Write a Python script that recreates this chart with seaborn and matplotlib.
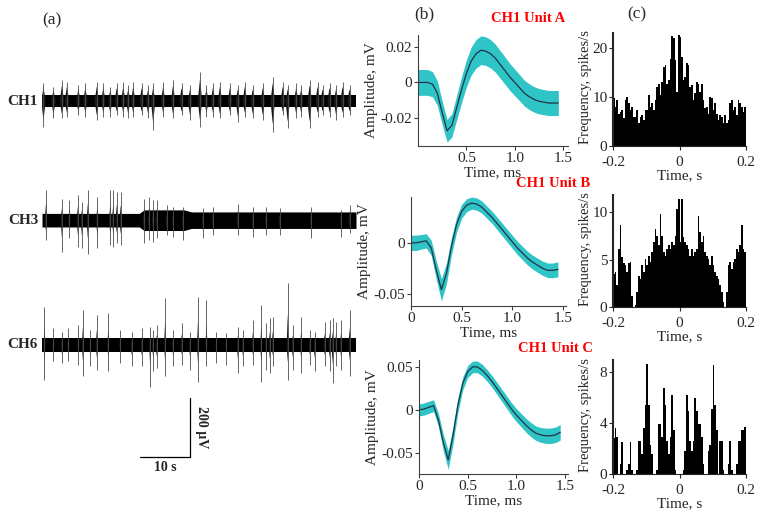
import numpy as np
import pandas as pd
import matplotlib
matplotlib.use('Agg')
import matplotlib.pyplot as plt
import seaborn as sns

# ---- (a) raw traces: noise band half-width (uV) and visible spikes (time s, up uV, down uV)
ch1_noise_t = [0, 63]
ch1_noise = [21, 21]
ch1_spk_t = [0.3, 2.3, 4.0, 5.0, 7.3, 8.7, 11.0, 12.3, 13.7, 15.0, 16.3, 17.3, 18.3, 20.0, 21.3,
             22.3, 24.3, 26.3, 28.0, 29.7, 31.7, 33.0, 34.3, 35.7, 37.7, 39.3, 40.7, 42.3, 44.3,
             46.3, 48.3, 49.3, 51.0, 52.0, 53.7, 55.3, 56.3, 57.7, 59.0, 60.3, 61.7]
ch1_spk_up = [60, 49, 71, 65, 54, 60, 65, 60, 49, 60, 65, 54, 65, 60, 54,
              60, 65, 71, 60, 54, 99, 54, 60, 65, 60, 54, 65, 54, 60,
              82, 65, 54, 60, 54, 71, 65, 54, 60, 54, 65, 54]
ch1_spk_dn = [87, 59, 59, 53, 48, 53, 64, 53, 53, 48, 53, 59, 53, 48, 59,
              98, 53, 59, 48, 64, 87, 53, 53, 59, 48, 70, 53, 59, 64,
              104, 48, 93, 59, 53, 93, 53, 48, 53, 64, 53, 48]

ch3_noise_t = [0, 19.5, 20.5, 28.5, 30.0, 63]
ch3_noise = [23, 23, 35, 35, 28, 28]
ch3_spk_t = [0.8, 4.0, 5.5, 7.2, 8.0, 9.2, 11.1, 13.7, 14.3, 15.0, 15.8, 20.5, 21.5, 22.3,
             23.0, 25.0, 26.3, 28.3, 32.3, 34.3, 39.3, 42.3, 45.0, 47.7, 54.0, 60.0, 61.7]
ch3_spk_up = [102, 73, 68, 85, 62, 104, 79, 102, 102, 96, 94, 73, 79, 70,
              68, 51, 45, 45, 40, 45, 56, 45, 45, 40, 45, 34, 51]
ch3_spk_dn = [68, 107, 62, 90, 96, 113, 96, 85, 90, 79, 85, 79, 68, 73,
              62, 51, 56, 68, 62, 51, 51, 56, 51, 51, 62, 56, 45]

ch6_noise_t = [0, 63]
ch6_noise = [23, 23]
ch6_spk_t = [0.5, 2.3, 4.0, 5.3, 7.3, 8.2, 9.7, 11.0, 13.3, 15.7, 18.0, 20.0, 21.7, 22.3,
             23.0, 24.7, 26.3, 28.0, 29.7, 31.3, 33.0, 35.0, 37.0, 39.3, 40.3, 42.3, 44.0,
             45.0, 45.7, 46.3, 49.3, 50.3, 52.0, 53.7, 54.7, 56.7, 57.7, 58.3, 59.0, 60.0, 61.7]
ch6_spk_up = [130, 56, 45, 56, 68, 119, 51, 102, 107, 51, 45, 56, 62, 51,
              68, 159, 51, 73, 45, 164, 153, 45, 40, 62, 51, 85, 136,
              73, 90, 96, 209, 68, 96, 51, 45, 79, 85, 90, 79, 85, 119]
ch6_spk_dn = [119, 56, 62, 56, 68, 107, 73, 85, 90, 62, 73, 73, 141, 90,
              79, 107, 73, 68, 85, 124, 73, 62, 68, 96, 73, 68, 124,
              85, 96, 73, 119, 85, 96, 68, 90, 73, 90, 130, 73, 85, 107]

# ---- (b) mean spike waveforms (mV) with spread
wave_t = [0.0, 0.05, 0.1, 0.15, 0.2, 0.25, 0.3, 0.35, 0.4, 0.45, 0.5, 0.55, 0.6, 0.65, 0.7,
          0.75, 0.8, 0.85, 0.9, 0.95, 1.0, 1.05, 1.1, 1.15, 1.2, 1.25, 1.3, 1.35, 1.4, 1.45]
mean_a = [0.0, 0.0, 0.0, -0.001, -0.006, -0.017, -0.027, -0.024, -0.014, -0.004, 0.005, 0.012,
          0.016, 0.018, 0.0175, 0.016, 0.0135, 0.010, 0.0065, 0.003, 0.0, -0.003, -0.006,
          -0.008, -0.0095, -0.0105, -0.011, -0.0115, -0.0115, -0.0115]
sd_a = [0.0072, 0.0072, 0.0072, 0.0070, 0.0068, 0.0065, 0.0063, 0.0065, 0.0068, 0.0072,
        0.0075, 0.0078, 0.0080, 0.0080, 0.0080, 0.0079, 0.0078, 0.0077, 0.0076, 0.0075,
        0.0074, 0.0073, 0.0072, 0.0072, 0.0071, 0.0071, 0.0070, 0.0070, 0.0070, 0.0070]
mean_b = [0.0, 0.0, 0.001, 0.002, -0.005, -0.027, -0.046, -0.030, -0.003, 0.018, 0.031, 0.037,
          0.039, 0.038, 0.035, 0.030, 0.025, 0.019, 0.013, 0.007, 0.001, -0.005, -0.010,
          -0.015, -0.019, -0.022, -0.025, -0.027, -0.027, -0.026]
sd_b = [0.0075, 0.0075, 0.0072, 0.0070, 0.0075, 0.0090, 0.0110, 0.0100, 0.0085, 0.0075,
        0.0068, 0.0063, 0.0060, 0.0060, 0.0060, 0.0060, 0.0060, 0.0061, 0.0062, 0.0063,
        0.0064, 0.0065, 0.0066, 0.0067, 0.0068, 0.0069, 0.0070, 0.0071, 0.0072, 0.0073]
mean_c = [0.0, 0.001, 0.003, 0.005, -0.012, -0.038, -0.058, -0.029, 0.006, 0.031, 0.0445, 0.050,
          0.050, 0.046, 0.040, 0.033, 0.025, 0.017, 0.009, 0.001, -0.006, -0.012, -0.018,
          -0.023, -0.027, -0.029, -0.030, -0.030, -0.029, -0.026]
sd_c = [0.0070, 0.0070, 0.0070, 0.0068, 0.0075, 0.0095, 0.0110, 0.0100, 0.0085, 0.0075,
        0.0070, 0.0068, 0.0068, 0.0068, 0.0068, 0.0069, 0.0070, 0.0071, 0.0072, 0.0074,
        0.0076, 0.0078, 0.0080, 0.0082, 0.0084, 0.0086, 0.0088, 0.0090, 0.0090, 0.0090]

# ---- (c) cross-correlograms, 80 bins of 5 ms from -0.2 to 0.2 s (spikes/s)
ccg_a = [9.7, 8.0, 9.3, 6.6, 7.0, 7.3, 5.6, 9.3, 10.0, 8.7, 7.3, 8.0, 6.0, 6.0, 7.3, 4.6,
         6.0, 6.3, 5.3, 7.3, 7.3, 10.3, 8.0, 8.7, 7.3, 9.3, 12.0, 12.7, 10.4, 13.0, 16.0, 16.5,
         12.7, 13.4, 17.8, 22.4, 21.9, 17.5, 11.0, 22.6, 22.2, 18.2, 13.4, 14.0, 16.8, 16.5, 12.0, 12.4,
         9.3, 10.7, 13.0, 12.7, 11.0, 12.7, 9.3, 7.7, 8.0, 6.6, 10.0, 9.7, 7.3, 8.7, 6.6, 5.3,
         6.3, 6.0, 4.6, 6.3, 4.6, 5.3, 8.7, 9.3, 7.3, 8.0, 6.3, 9.3, 8.7, 8.0, 7.0, 8.0]
ccg_b = [3.5, 3.7, 2.3, 6.1, 8.6, 5.3, 4.6, 4.4, 3.7, 4.6, 4.7, 1.2, 0.0, 0.2, 1.6, 3.3,
         3.0, 4.4, 3.7, 5.1, 4.4, 5.4, 4.7, 5.8, 6.8, 8.2, 7.5, 6.5, 9.8, 7.5, 5.8, 5.4,
         6.1, 6.5, 6.1, 6.8, 6.5, 7.5, 10.3, 11.4, 6.8, 11.4, 7.4, 6.8, 6.5, 6.1, 5.4, 6.1,
         5.4, 5.8, 6.1, 9.6, 7.9, 6.8, 7.5, 5.8, 5.4, 5.1, 4.4, 5.4, 4.4, 3.7, 3.3, 3.0,
         2.3, 1.6, 0.5, 0.0, 1.6, 4.4, 4.7, 4.0, 4.7, 5.1, 6.1, 5.8, 6.5, 8.6, 6.1, 5.8]
ccg_c = [2.8, 3.6, 2.9, 0.0, 0.8, 2.5, 0.0, 0.0, 0.3, 0.8, 2.5, 0.3, 0.0, 0.0, 0.3, 2.6,
         2.6, 1.6, 3.6, 5.4, 8.6, 5.4, 2.3, 1.6, 0.0, 0.0, 0.3, 3.9, 3.9, 2.9, 6.7, 5.4,
         2.6, 1.6, 2.9, 6.2, 3.4, 0.3, 0.0, 0.0, 0.0, 0.0, 0.3, 1.8, 6.2, 4.9, 2.6, 1.8,
         2.6, 5.9, 4.9, 3.9, 3.9, 2.9, 0.8, 0.0, 0.0, 1.8, 2.3, 5.1, 8.5, 5.4, 3.4, 0.0,
         2.6, 2.6, 0.3, 0.0, 0.0, 0.8, 2.6, 0.3, 0.0, 0.0, 0.8, 2.6, 2.6, 3.4, 3.4, 3.7]

unit_titles = ['CH1 Unit A', 'CH1 Unit B', 'CH1 Unit C']
channel_names = ['CH1', 'CH3', 'CH6']

sns.set_style('ticks')
plt.rcParams['font.family'] = ['Liberation Serif', 'DejaVu Serif']

W, H = 762, 514
fig = plt.figure(figsize=(W / 100, H / 100), dpi=100)


def px_axes(left, top, right, bottom):
    return fig.add_axes([left / W, 1 - bottom / H, (right - left) / W, (bottom - top) / H])


# ---------------- panel (a)
ax_tr = px_axes(42, 40, 356, 480)
ax_tr.set_xlim(0, 63)
ax_tr.set_ylim(0, 1492)
ax_tr.axis('off')

traces = [
    (1285, ch1_noise_t, ch1_noise, ch1_spk_t, ch1_spk_up, ch1_spk_dn, 0.45, 0.75),
    (881, ch3_noise_t, ch3_noise, ch3_spk_t, ch3_spk_up, ch3_spk_dn, 0.25, 0.55),
    (458, ch6_noise_t, ch6_noise, ch6_spk_t, ch6_spk_up, ch6_spk_dn, 0.2, 0.5),
]
for name, (off, nt, nv, st, su, sdn, w, frac) in zip(channel_names, traces):
    nv = np.array(nv)
    ax_tr.fill_between(nt, off - nv, off + nv, color='black', lw=0)
    su = np.array(su)
    sdn = np.array(sdn)
    ax_tr.vlines(st, off - sdn, off + su, color='0.3', lw=0.6)
    for t, u, d in zip(st, su, sdn):
        ax_tr.fill([t - w, t, t + w], [off, off + frac * u, off], color='0.1', lw=0)
        ax_tr.fill([t - w, t, t + w], [off, off - frac * d, off], color='0.1', lw=0)
    ax_tr.text(-0.8, off, name, ha='right', va='center', fontsize=11, weight='bold')

# scale bar
ax_tr.plot([19.7, 29.7], [78, 78], color='black', lw=0.9)
ax_tr.plot([29.7, 29.7], [78, 278], color='black', lw=0.9)
ax_tr.text(24.7, 66, '10 s', ha='center', va='top', fontsize=10, weight='bold')
ax_tr.text(30.6, 178, '200 \u00b5V', ha='left', va='center', rotation=270,
           fontsize=10, weight='bold')

# ---------------- panel (b)
wave_specs = [
    (mean_a, sd_a, (418, 35, 568, 146), (0, 1.55), (-0.0355, 0.0265),
     [-0.02, 0, 0.02], ['-0.02', '0', '0.02'], [0.5, 1.0, 1.5]),
    (mean_b, sd_b, (411, 197, 566, 306), (0, 1.53), (-0.062, 0.045),
     [-0.05, 0], ['-0.05', '0'], [0, 0.5, 1.0, 1.5]),
    (mean_c, sd_c, (419, 360, 568, 474), (0, 1.53), (-0.0744, 0.058),
     [-0.05, 0, 0.05], ['-0.05', '0', '0.05'], [0, 0.5, 1.0, 1.5]),
]
for mean, sd, box, xl, yl, yt, ytl, xt in wave_specs:
    ax = px_axes(*box)
    mean = np.array(mean)
    sd = np.array(sd)
    ax.fill_between(wave_t, mean - sd, mean + sd, color='#2FC4C6', lw=0)
    sns.lineplot(x=wave_t, y=mean, ax=ax, color='#1E3348', lw=0.9)
    ax.set_xlim(*xl)
    ax.set_ylim(*yl)
    ax.set_yticks(yt)
    ax.set_yticklabels(ytl)
    ax.set_xticks(xt)
    ax.set_xticklabels(['0' if v == 0 else f'{v:.1f}' for v in xt])
    ax.set_xlabel('Time, ms', fontsize=11, labelpad=1)
    ax.set_ylabel('Amplitude, mV', fontsize=11, labelpad=2)
    sns.despine(ax=ax)
    for s in ['left', 'bottom']:
        ax.spines[s].set_linewidth(0.8)
        ax.spines[s].set_color('0.25')
    ax.tick_params(labelsize=11, length=3, width=0.8, pad=1, color='0.25')

# ---------------- panel (c)
edges = list(np.linspace(-0.2, 0.2, 81))
centers = [(a + b) / 2 for a, b in zip(edges[:-1], edges[1:])]
hist_specs = [
    (ccg_a, (613, 33, 746, 146), 23, [0, 10, 20]),
    (ccg_b, (613, 195, 746, 307), 11.8, [0, 5, 10]),
    (ccg_c, (613, 360, 746, 474), 8.9, [0, 4, 8]),
]
for vals, box, ytop, yt in hist_specs:
    ax = px_axes(*box)
    df = pd.DataFrame({'t': centers, 'rate': vals})
    sns.histplot(data=df, x='t', weights='rate', bins=edges, ax=ax, color='black',
                 alpha=1, linewidth=0, element='bars')
    ax.set_xlim(-0.2, 0.2)
    ax.set_ylim(0, ytop)
    ax.set_yticks(yt)
    ax.set_xticks([-0.2, 0, 0.2])
    ax.set_xticklabels(['-0.2', '0', '0.2'])
    ax.set_xlabel('Time, s', fontsize=11, labelpad=0)
    ax.set_ylabel('Frequency, spikes/s', fontsize=10.5)
    ax.yaxis.set_label_coords(-0.155, 0.52)
    sns.despine(ax=ax)
    ax.spines['left'].set_linewidth(1.5)
    ax.spines['bottom'].set_linewidth(0.8)
    ax.tick_params(labelsize=11, length=3, width=0.8, pad=1)
    ax.tick_params(axis='x', pad=4)

# titles and panel letters
for title, (x, y) in zip(unit_titles, [(528, 18), (553, 183), (555, 349)]):
    fig.text(x / W, 1 - y / H, title, color='red', weight='bold', fontsize=10.5,
             ha='center', va='center')
for lab, (x, y) in zip(['(a)', '(b)', '(c)'], [(52, 20), (424, 14), (637, 14)]):
    fig.text(x / W, 1 - y / H, lab, fontsize=12.5, ha='center', va='center')

fig.savefig('out.png', dpi=100)
